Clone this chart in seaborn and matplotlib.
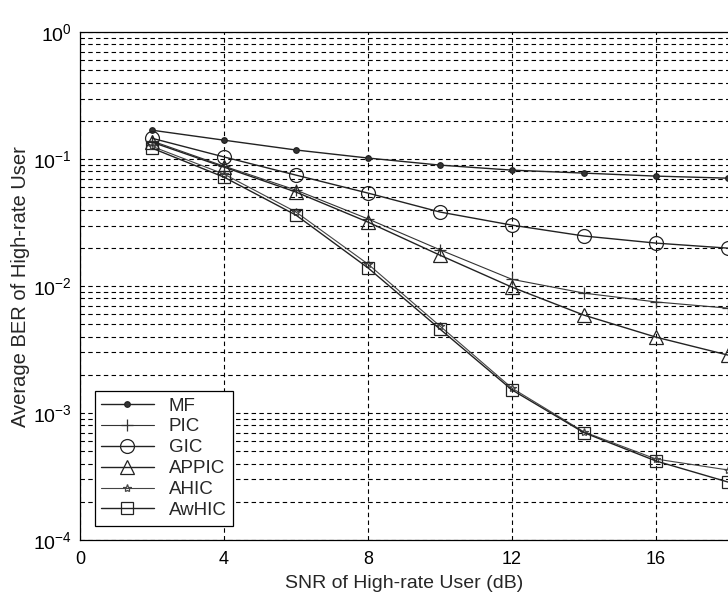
import matplotlib
matplotlib.use("Agg")
import matplotlib.pyplot as plt
import seaborn as sns
import pandas as pd
from matplotlib.ticker import LogLocator, LogFormatterMathtext, FixedLocator, NullFormatter

# SNR values (dB) and BER curves
snr = [2, 4, 6, 8, 10, 12, 14, 16, 18]
ber_mf = [0.169, 0.141, 0.118, 0.102, 0.0897, 0.0819, 0.0776, 0.0735, 0.0708]
ber_pic = [0.139, 0.088, 0.0570, 0.0338, 0.0193, 0.0113, 0.0088, 0.0075, 0.0067]
ber_gic = [0.146, 0.104, 0.0748, 0.054, 0.0383, 0.0302, 0.0248, 0.0218, 0.0199]
ber_appic = [0.136, 0.0865, 0.055, 0.0319, 0.0175, 0.0098, 0.0059, 0.00396, 0.00286]
ber_ahic = [0.126, 0.0762, 0.0383, 0.0149, 0.00484, 0.00157, 0.00071, 0.000434, 0.000356]
ber_awhic = [0.122, 0.0721, 0.0362, 0.0139, 0.00458, 0.00152, 0.00070, 0.000419, 0.000286]

methods = ["MF", "PIC", "GIC", "APPIC", "AHIC", "AwHIC"]
curves = [ber_mf, ber_pic, ber_gic, ber_appic, ber_ahic, ber_awhic]

df = pd.concat([pd.DataFrame({"snr": snr, "ber": c, "method": m})
                for m, c in zip(methods, curves)], ignore_index=True)

sns.set_style("white")
plt.rcParams["font.family"] = ["Liberation Sans", "DejaVu Sans"]
plt.rcParams["mathtext.default"] = "regular"

fig = plt.figure(figsize=(7.28, 5.96), dpi=100)
ax = fig.add_axes([0.110, 0.094, 0.890, 0.852])

# marker / line style per curve
styles = {
    "MF":    dict(marker="o", ms=4, mfc="#333333", lw=1.0, color="#222222", ls="-"),
    "PIC":   dict(marker="+", ms=9, mfc="none", lw=0.8, color="#333333", ls="-"),
    "GIC":   dict(marker="o", ms=10, mfc="none", lw=1.0, color="#222222", ls="-"),
    "APPIC": dict(marker="^", ms=10, mfc="none", lw=1.0, color="#222222", ls="-"),
    "AHIC":  dict(marker="*", ms=6, mfc="none", lw=0.8, color="#444444", ls="-"),
    "AwHIC": dict(marker="s", ms=9, mfc="none", lw=1.0, color="#222222", ls="-"),
}

for m in methods:
    st = styles[m]
    sub = df[df["method"] == m]
    sns.lineplot(data=sub, x="snr", y="ber", ax=ax, label=m,
                 color=st["color"], lw=st["lw"], ls=st["ls"],
                 marker=st["marker"], markersize=st["ms"],
                 markerfacecolor=st["mfc"], markeredgecolor=st["color"],
                 markeredgewidth=0.9)

ax.set_yscale("log")
ax.set_xlim(0, 18)
ax.set_ylim(1e-4, 1)

ax.xaxis.set_major_locator(FixedLocator([0, 4, 8, 12, 16]))
ax.yaxis.set_major_locator(LogLocator(base=10, numticks=10))
ax.yaxis.set_minor_locator(LogLocator(base=10, subs=range(2, 10), numticks=50))
ax.yaxis.set_major_formatter(LogFormatterMathtext())
ax.yaxis.set_minor_formatter(NullFormatter())

ax.grid(True, which="major", axis="x", ls=(0, (4, 3)), lw=0.8, color="black")
ax.grid(True, which="both", axis="y", ls=(0, (4, 3)), lw=0.8, color="black")

ax.tick_params(which="both", direction="in", colors="black")
ax.tick_params(axis="y", labelsize=14, pad=6)
ax.tick_params(axis="x", labelsize=13, pad=8)
ax.tick_params(which="major", length=5)
ax.tick_params(which="minor", length=3)

for side in ["left", "bottom", "top"]:
    ax.spines[side].set_color("black")
    ax.spines[side].set_linewidth(0.9)
ax.spines["right"].set_visible(False)

ax.set_xlabel("SNR of High-rate User (dB)", fontsize=14, labelpad=5)
ax.set_ylabel("Average BER of High-rate User", fontsize=14.5, labelpad=2)

leg = ax.legend(loc="lower left", bbox_to_anchor=(0.008, 0.01), fontsize=13.5,
                frameon=True, fancybox=False, edgecolor="black", framealpha=1,
                handlelength=2.8, borderpad=0.35, labelspacing=0.2, handletextpad=0.8)
leg.get_frame().set_linewidth(0.9)

fig.savefig("out.png", dpi=100)
